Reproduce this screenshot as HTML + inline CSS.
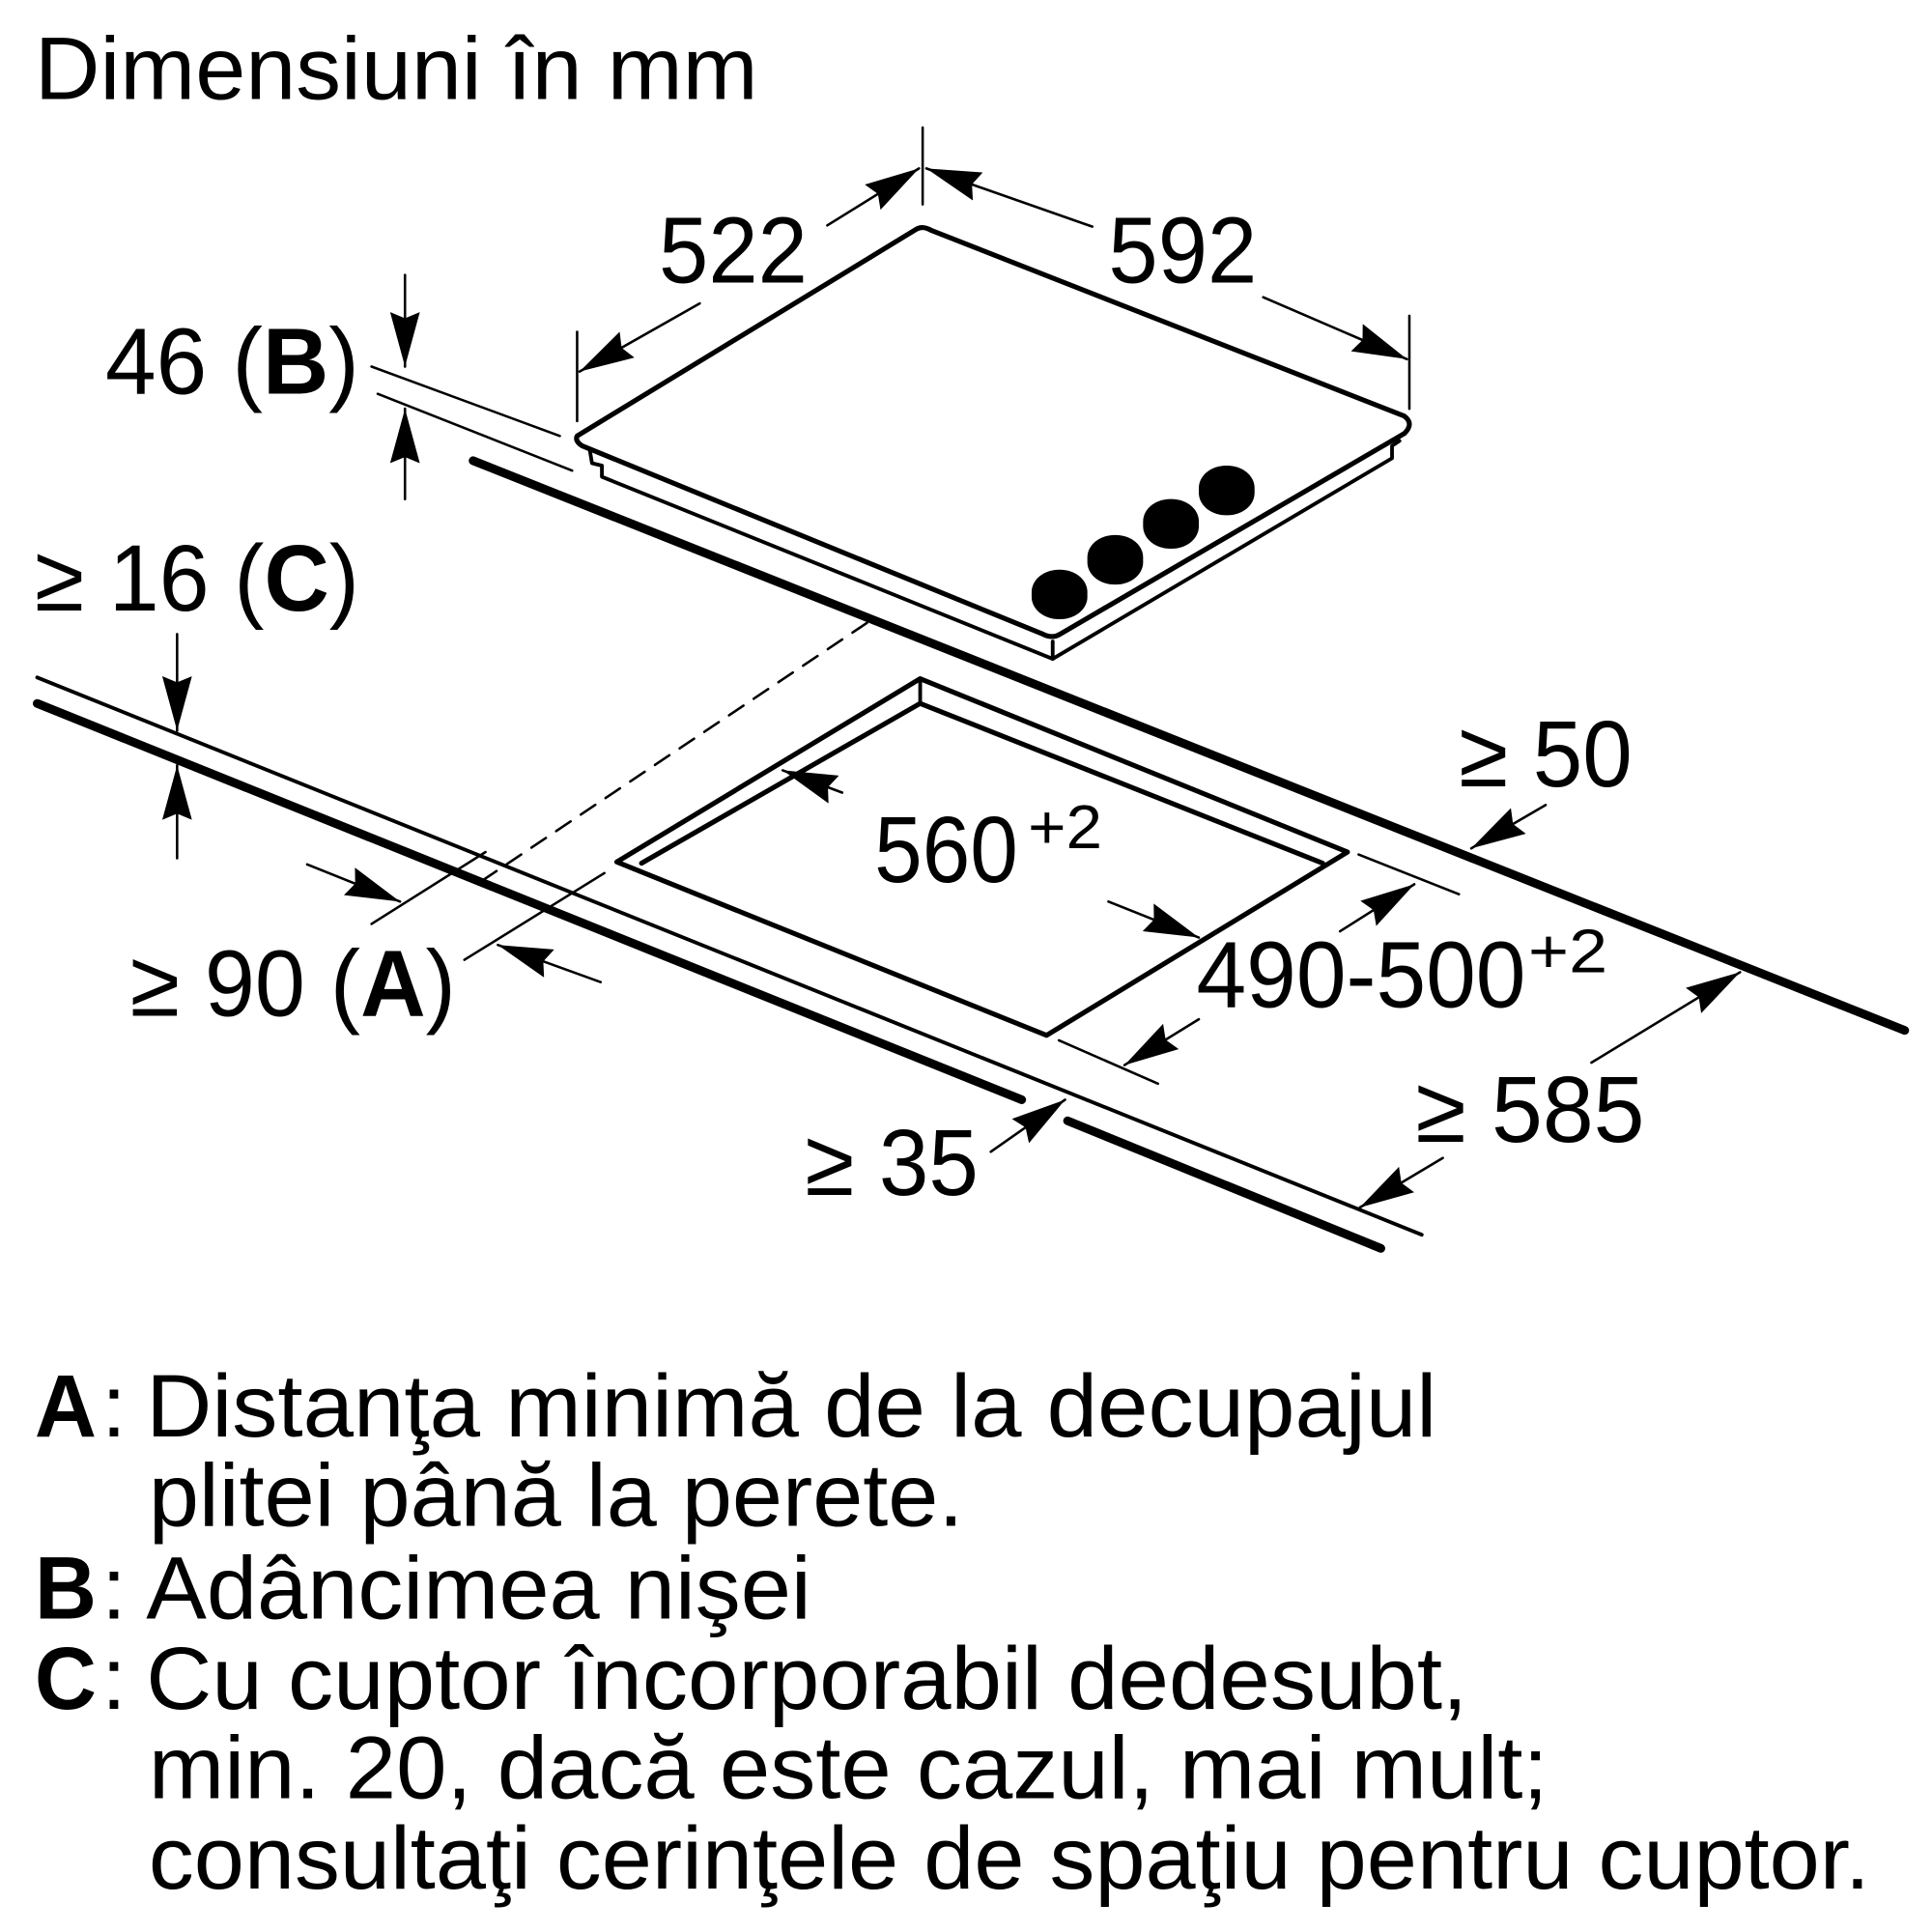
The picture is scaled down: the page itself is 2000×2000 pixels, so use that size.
<!DOCTYPE html>
<html><head><meta charset="utf-8"><style>
html,body{margin:0;padding:0;background:#fff}
svg{display:block}
text{font-family:"Liberation Sans",Arial,sans-serif;fill:#000}
</style></head><body>
<svg width="2000" height="2000" viewBox="0 0 1560 1560" xmlns="http://www.w3.org/2000/svg">
<defs>
<marker id="a" viewBox="0 0 44 24" refX="44" refY="12" markerWidth="44" markerHeight="24" markerUnits="userSpaceOnUse" orient="auto">
<path d="M0,0 L44,12 L0,24 L5,12 z" fill="#000"/></marker>
</defs>
<text x="28" y="80" font-size="72" textLength="584" lengthAdjust="spacingAndGlyphs">Dimensiuni în mm</text>

<g fill="none" stroke="#000" stroke-linecap="round" stroke-linejoin="round">
<line x1="382" y1="372" x2="1538" y2="832" stroke-width="7"/>
<line x1="30" y1="547" x2="1148" y2="997" stroke-width="3"/>
<line x1="30" y1="568" x2="825" y2="888" stroke-width="7"/>
<line x1="862" y1="905" x2="1115" y2="1008" stroke-width="7"/>
<path d="M466,352 L740,185 Q745,182 752,186 L1134,336 Q1142,342 1134,350 L856,512 Q850,516 842,512 L470,360 Q464,356 466,352 Z" stroke-width="4"/>
<path d="M476,362 L478,374 L486,376 L486,385 L850,532 L1124,370 L1124,360 L1130,356" stroke-width="3"/>
<line x1="850" y1="518" x2="850" y2="532" stroke-width="3"/>
<path d="M498,696 L743,548 L1088,688 L845,836 Z" stroke-width="4"/>
<path d="M518,697 L743,568 L1068,697" stroke-width="4"/>
<line x1="743" y1="548" x2="743" y2="568" stroke-width="3"/>
<line x1="700" y1="503" x2="388" y2="712" stroke-width="2" stroke-dasharray="14,10"/>
<g stroke-width="2">
<line x1="745" y1="103" x2="745" y2="165"/>
<line x1="466" y1="268" x2="466" y2="340"/>
<line x1="1138" y1="255" x2="1138" y2="330"/>
<line x1="300" y1="296" x2="452" y2="352"/>
<line x1="305" y1="318" x2="462" y2="380"/>
<line x1="300" y1="746" x2="392" y2="688"/>
<line x1="375" y1="775" x2="488" y2="705"/>
<line x1="1097" y1="690" x2="1178" y2="722"/>
<line x1="855" y1="840" x2="935" y2="875"/>
</g>
<g stroke-width="2" marker-end="url(#a)">
<line x1="668" y1="182" x2="742" y2="136"/>
<line x1="565" y1="245" x2="468" y2="300"/>
<line x1="882" y1="183" x2="748" y2="136"/>
<line x1="1020" y1="240" x2="1136" y2="290"/>
<line x1="327" y1="222" x2="327" y2="296"/>
<line x1="327" y1="403" x2="327" y2="330"/>
<line x1="143" y1="512" x2="143" y2="590"/>
<line x1="143" y1="693" x2="143" y2="618"/>
<line x1="248" y1="698" x2="323" y2="728"/>
<line x1="485" y1="793" x2="402" y2="763"/>
<line x1="680" y1="640" x2="632" y2="622"/>
<line x1="895" y1="728" x2="968" y2="757"/>
<line x1="1082" y1="752" x2="1142" y2="714"/>
<line x1="968" y1="823" x2="908" y2="860"/>
<line x1="1248" y1="650" x2="1188" y2="685"/>
<line x1="1285" y1="858" x2="1405" y2="785"/>
<line x1="1165" y1="935" x2="1098" y2="975"/>
<line x1="800" y1="930" x2="860" y2="888"/>
</g>
</g>
<g fill="#000">
<rect x="833" y="460" width="45" height="40" rx="22" ry="18"/>
<rect x="878" y="432" width="45" height="40" rx="22" ry="18"/>
<rect x="923" y="403" width="45" height="40" rx="22" ry="18"/>
<rect x="968" y="376" width="45" height="40" rx="22" ry="18"/>
</g>

<g font-size="76">
<text x="532" y="228" textLength="120" lengthAdjust="spacingAndGlyphs">522</text>
<text x="895" y="228" textLength="120" lengthAdjust="spacingAndGlyphs">592</text>
<text x="85" y="318" textLength="205" lengthAdjust="spacingAndGlyphs">46 (<tspan font-weight="bold">B</tspan>)</text>
<text x="28" y="493" textLength="262" lengthAdjust="spacingAndGlyphs">≥ 16 (<tspan font-weight="bold">C</tspan>)</text>
<text x="105" y="820" textLength="263" lengthAdjust="spacingAndGlyphs">≥ 90 (<tspan font-weight="bold">A</tspan>)</text>
<text x="706" y="712" textLength="116" lengthAdjust="spacingAndGlyphs">560</text>
<text x="830" y="685" font-size="50" textLength="60" lengthAdjust="spacingAndGlyphs">+2</text>
<text x="1178" y="635" textLength="140" lengthAdjust="spacingAndGlyphs">≥ 50</text>
<text x="966" y="813" textLength="266" lengthAdjust="spacingAndGlyphs">490-500</text>
<text x="1234" y="785" font-size="50" textLength="64" lengthAdjust="spacingAndGlyphs">+2</text>
<text x="1143" y="922" textLength="185" lengthAdjust="spacingAndGlyphs">≥ 585</text>
<text x="650" y="965" textLength="140" lengthAdjust="spacingAndGlyphs">≥ 35</text>
</g>

<g font-size="72">
<text x="28" y="1160" font-weight="bold" textLength="50" lengthAdjust="spacingAndGlyphs">A</text>
<text x="82" y="1160">:</text>
<text x="118" y="1160" textLength="1042" lengthAdjust="spacingAndGlyphs">Distanţa minimă de la decupajul</text>
<text x="120" y="1232" textLength="658" lengthAdjust="spacingAndGlyphs">plitei până la perete.</text>
<text x="28" y="1307" font-weight="bold" textLength="50" lengthAdjust="spacingAndGlyphs">B</text>
<text x="82" y="1307">:</text>
<text x="118" y="1307" textLength="537" lengthAdjust="spacingAndGlyphs">Adâncimea nişei</text>
<text x="28" y="1380" font-weight="bold" textLength="50" lengthAdjust="spacingAndGlyphs">C</text>
<text x="82" y="1380">:</text>
<text x="118" y="1380" textLength="1067" lengthAdjust="spacingAndGlyphs">Cu cuptor încorporabil dedesubt,</text>
<text x="120" y="1452" textLength="1130" lengthAdjust="spacingAndGlyphs">min. 20, dacă este cazul, mai mult;</text>
<text x="120" y="1525" textLength="1390" lengthAdjust="spacingAndGlyphs">consultaţi cerinţele de spaţiu pentru cuptor.</text>
</g>
</svg>
</body></html>
